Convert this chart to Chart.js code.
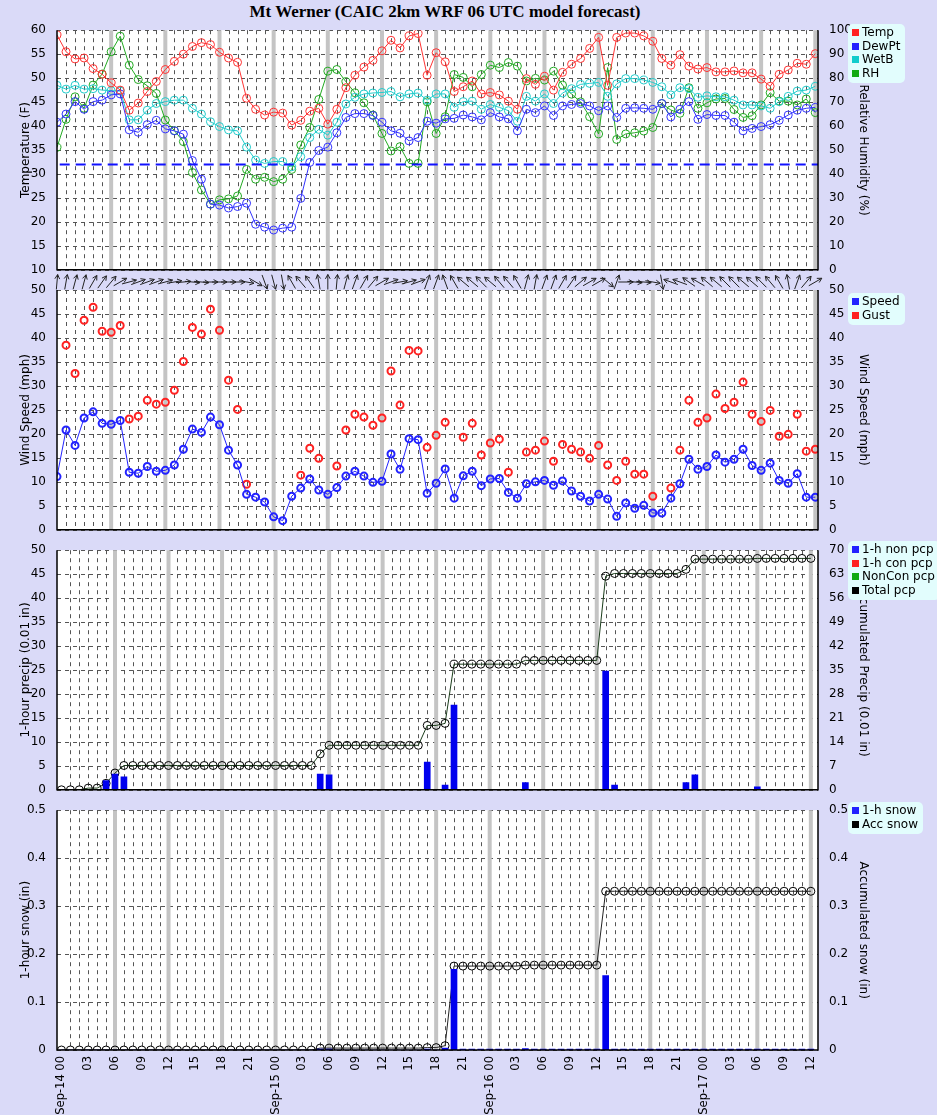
<!DOCTYPE html>
<html>
<head>
<meta charset="utf-8">
<script src="https://cdn.jsdelivr.net/npm/chart.js@4/dist/chart.umd.min.js"></script>
<style>
  body { margin: 0; background: #dadaf8; width: 937px; height: 1115px; position: relative; overflow: hidden; font-family: "DejaVu Sans", sans-serif; }
  h1 { position: absolute; top: 2px; left: 0; width: 890px; margin: 0; text-align: center; font: bold 17px "Liberation Serif", serif; color: #000; }
  .pane { position: absolute; left: 0; width: 937px; }
  .legend { position: absolute; left: 848px; background: #e2fdfd; border-radius: 5px; padding: 2px 5px 3px 4px; font-size: 12px; line-height: 13.5px; color: #000; white-space: nowrap; }
  .legend span { display: inline-block; width: 7px; height: 7px; margin-right: 3px; }
</style>
</head>
<body>
<h1>Mt Werner (CAIC 2km WRF 06 UTC model forecast)</h1>
<div class="pane" style="top:20px;height:260px"><canvas id="c1"></canvas></div>
<div class="pane" style="top:270px;height:270px"><canvas id="c2"></canvas></div>
<div class="pane" style="top:540px;height:260px"><canvas id="c3"></canvas></div>
<div class="pane" style="top:800px;height:318px"><canvas id="c4"></canvas></div>
<div class="legend" style="top:24px"><div><span style="background:#f22"></span>Temp</div><div><span style="background:#22f"></span>DewPt</div><div><span style="background:#1cc"></span>WetB</div><div><span style="background:#1a1"></span>RH</div></div>
<div class="legend" style="top:293px"><div><span style="background:#22f"></span>Speed</div><div><span style="background:#f22"></span>Gust</div></div>
<div class="legend" style="top:541px"><div><span style="background:#22f"></span>1-h non pcp</div><div><span style="background:#f22"></span>1-h con pcp</div><div><span style="background:#1a1"></span>NonCon pcp</div><div><span style="background:#000"></span>Total pcp</div></div>
<div class="legend" style="top:802px"><div><span style="background:#22f"></span>1-h snow</div><div><span style="background:#000"></span>Acc snow</div></div>
<script>
// heures de prévision 0..84 (Sep-14 00 -> Sep-17 12)
const hours = Array.from({ length: 85 }, (_, i) => i);
const dayLabels = ['Sep-14 00', 'Sep-15 00', 'Sep-16 00', 'Sep-17 00'];

const temp = [59,55.5,54,54.2,52,50.8,49,47.5,43.3,44.8,47.2,49.3,51.8,53.5,55,56.6,57.4,57,55.4,54.2,53.3,45.8,43.5,42.3,42.9,42.7,40.2,41.2,43.1,43.7,40.4,43.5,48,50.6,52.3,53.7,55.7,57.9,56.3,58.8,59.3,50.6,55.3,53.4,47.2,48.2,49.4,46.7,47,46.5,45.2,43.5,49.9,48.7,50.4,47.5,51.2,52.9,54.1,56.2,58.5,48.5,58.5,59.4,59.4,58.8,57.7,54.1,52.7,54.9,52.5,51.9,52.2,51.3,51.3,51.5,51.1,51.1,49.8,48.3,50.8,51.7,53.1,52.9,55.1];
const dewpt = [40.8,42.5,45.1,43.5,45.1,45.4,46.5,46.7,39.2,38.7,40.3,41.2,39.4,39,38.3,32.8,28.9,23.7,23.5,22.9,23.2,23.9,19.5,18.9,18.3,18.7,18.9,24.9,32.4,34.9,35.6,38.6,41.8,42.6,42.6,42.2,40.8,39,38.5,36.9,37.6,41,40.6,41.5,41.6,42.3,41.9,41.3,42.8,41.9,41.5,39,43.5,42.8,44.2,42.2,44.2,44.5,44.7,44.2,43.2,44.2,41.8,43.7,43.8,43.7,43.5,44.7,41.9,43.5,45.1,41.4,42.4,42.2,42.2,40.8,39,39.5,39.9,40.3,41.2,42.3,43.3,43.7,43.9];
const wetb = [48.5,47.7,48.5,47.7,47.8,47.5,47.4,47.3,41.3,41.3,43.3,44.7,45.1,45.4,45.4,43.7,42.5,40.9,39.9,39.2,39,35.6,32.9,32.2,32.6,32.6,31.5,33.6,37.6,39.3,38.1,40.8,44.6,46,46.7,46.9,47,47.2,46.1,46.7,46.9,45.4,46.7,46.7,43.9,45.1,45.2,43.5,44.5,43.9,43.2,41,46.2,45.2,46.7,44.7,46.9,47.8,48.7,48.9,49.1,46.2,48.8,49.9,49.9,49.6,49.1,48.2,46.5,48,47.8,46,46.3,46.1,46.1,45.4,44.4,44.4,44.2,43.7,45.1,46.2,47.3,47.5,48.3];
const rh = [51.1,62.8,72.2,67.4,77.1,81.7,91,97.5,85.4,79.4,76.8,73.6,62.5,58.1,53.5,40.6,33.3,27.4,29.2,29.6,30.8,41.9,37.8,38.6,36.8,37.8,41.9,52.1,59.4,71.1,82.9,83.6,78.5,73.9,69.7,64.6,56.9,49.6,51.4,44.4,44.4,70.1,56.9,63.9,81.5,80.3,76.4,81.5,85.4,84.4,86.5,85,78.8,79.9,79.2,82.9,77.1,73.3,70.1,63.9,56.7,84.4,54.4,56.7,57.2,57.9,59.4,69.4,66.7,65.3,76,67.4,69.7,71.3,71.5,66.9,63.6,64.3,68.8,73.9,70.4,70.4,68.8,71.3,65.6];
const freezing = 32;

const speed = [11.1,20.8,17.6,23.3,24.6,22.2,22,22.8,12,11.8,13.2,12.2,12.4,13.5,16.8,21,20.3,23.5,21.9,16.6,13.5,7.4,6.8,5.8,2.7,1.9,7,8.7,10.6,8.3,7.4,8.8,11.2,12.2,11.2,9.9,10.1,15.8,12.6,19,18.8,7.6,9.7,12.7,6.6,11.25,12.2,9.2,10.6,10.7,7.8,6.6,9.6,10,10.3,9.3,10.2,8.1,7,6,7.4,6.4,2.8,5.6,4.5,5.1,3.5,3.5,6.6,9.6,14.7,12.6,13.2,15.6,14.1,14.7,16.8,13.4,12.4,13.9,10.3,9.7,11.7,6.8,6.8];
const gust = [null,38.5,32.6,43.7,46.4,41.4,41.2,42.6,23.1,23.7,27,26.2,26.6,29.1,35.1,42.2,40.8,46,41.6,31.2,25.1,9.5,null,null,null,null,null,11.4,17,14.9,null,13.3,20.8,24.1,23.5,21.8,23.3,33.1,26,37.4,37.3,17.2,19.7,22.4,null,19.3,22.2,15.6,18.1,18.9,12,null,16.2,16.6,18.5,14.3,17.8,16.8,16.2,14.9,17.6,13.5,10.3,14.3,11.6,11.6,7,null,8.7,16.6,27,22.4,23.3,28.3,25.3,26.6,30.8,24.1,22.6,24.9,19.5,19.9,24.1,16.4,16.8];
// direction vers laquelle pointe la flèche (degrés, 0 = nord)
const windDir = [5,10,15,15,30,35,40,60,75,70,70,70,75,80,85,95,95,90,90,90,90,100,120,160,165,170,330,320,325,350,0,5,15,20,30,40,60,70,80,75,70,20,20,340,330,310,310,315,310,320,320,330,15,10,20,20,30,35,50,60,60,130,20,90,95,95,100,170,290,290,305,300,310,310,315,315,310,310,315,320,330,350,20,40,60];

const pcpNon = [0,0,0,0,0,1.9,3.3,2.7,0,0,0,0,0,0,0,0,0,0,0,0,0,0,0,0,0,0,0,0,0,3.3,3.1,0,0,0,0,0,0,0,0,0,0,5.8,0,1,17.7,0,0,0,0,0,0,0,1.5,0,0,0,0,0,0,0,0,24.8,1,0,0,0,0,0,0,0,1.5,3.1,0,0,0,0,0,0,0.6,0,0,0,0,0,0];
const pcpTotal = [0,0,0,0.5,0.5,1.9,4.9,7.1,7.1,7.1,7.1,7.1,7.1,7.1,7.1,7.1,7.1,7.1,7.1,7.1,7.1,7.1,7.1,7.1,7.1,7.1,7.1,7.1,7.1,10.5,13,13,13,13,13,13,13,13,13,13,13,18.8,18.8,19.4,36.7,36.7,36.7,36.7,36.7,36.7,36.7,36.7,37.8,37.8,37.8,37.8,37.8,37.8,37.8,37.8,37.8,62.4,63.2,63.2,63.2,63.2,63.2,63.2,63.2,63.2,64.4,67.4,67.4,67.4,67.4,67.4,67.4,67.4,67.6,67.6,67.6,67.6,67.6,67.6,67.6];

const snow1h = [0,0,0,0,0,0,0,0,0,0,0,0,0,0,0,0,0,0,0,0,0,0,0,0,0,0,0,0,0,0.002,0.002,0,0,0,0,0,0,0,0,0,0,0.002,0,0.004,0.168,0.002,0.002,0.002,0.002,0.002,0.002,0.002,0.003,0.002,0.002,0.002,0.002,0.002,0.002,0.002,0.002,0.155,0.002,0.002,0.002,0.002,0.002,0.002,0.002,0.002,0.002,0.002,0.002,0.002,0.002,0.002,0.002,0.002,0.002,0.002,0.002,0.002,0.002,0.002,0.002];
const snowAcc = [0,0,0,0,0,0,0,0,0,0,0,0,0,0,0,0,0,0,0,0,0,0,0,0,0,0,0,0,0,0.004,0.004,0.004,0.004,0.004,0.004,0.004,0.004,0.004,0.004,0.004,0.004,0.005,0.005,0.009,0.175,0.175,0.175,0.175,0.175,0.175,0.175,0.175,0.177,0.177,0.177,0.177,0.177,0.177,0.177,0.177,0.177,0.331,0.331,0.331,0.331,0.331,0.331,0.331,0.331,0.331,0.331,0.331,0.331,0.331,0.331,0.331,0.331,0.331,0.331,0.331,0.331,0.331,0.331,0.331,0.331];

const FONT = 'DejaVu Sans';
const xy = (arr) => arr.map((v, i) => ({ x: hours[i], y: v }));

// grille: tirets chaque heure, barres grises toutes les 6 h, cadre noir
const gridPlugin = {
  id: 'grid',
  beforeDatasetsDraw(chart) {
    const { ctx, chartArea: a, scales } = chart;
    const x = scales.x, y = scales.y;
    ctx.save();
    ctx.fillStyle = '#fff';
    ctx.fillRect(a.left, a.top, a.right - a.left, a.bottom - a.top);
    ctx.strokeStyle = '#555';
    ctx.lineWidth = 1;
    ctx.setLineDash([4, 4]);
    y.ticks.forEach(t => {
      const py = Math.round(y.getPixelForValue(t.value)) + 0.5;
      ctx.beginPath(); ctx.moveTo(a.left, py); ctx.lineTo(a.right, py); ctx.stroke();
    });
    hours.forEach(h => {
      if (h % 6 === 0) return;
      const px = Math.round(x.getPixelForValue(h)) + 0.5;
      ctx.beginPath(); ctx.moveTo(px, a.top); ctx.lineTo(px, a.bottom); ctx.stroke();
    });
    ctx.setLineDash([]);
    ctx.strokeStyle = '#c4c4c4';
    ctx.lineWidth = 4;
    hours.forEach(h => {
      if (h % 6 !== 0 || h === 0) return;
      const px = x.getPixelForValue(h);
      ctx.beginPath(); ctx.moveTo(px, a.top); ctx.lineTo(px, a.bottom); ctx.stroke();
    });
    ctx.restore();
  },
  afterDraw(chart) {
    const { ctx, chartArea: a } = chart;
    ctx.save();
    ctx.strokeStyle = '#000';
    ctx.lineWidth = 1.5;
    ctx.beginPath();
    ctx.moveTo(a.left, a.top); ctx.lineTo(a.left, a.bottom); ctx.lineTo(a.right, a.bottom); ctx.lineTo(a.right, a.top);
    ctx.stroke();
    ctx.restore();
  }
};

const arrowPlugin = {
  id: 'arrows',
  afterDraw(chart) {
    const { ctx, chartArea: a, scales } = chart;
    ctx.save();
    ctx.strokeStyle = '#222';
    ctx.lineWidth = 1;
    windDir.forEach((d, i) => {
      const cx = scales.x.getPixelForValue(hours[i]);
      const cy = a.top - 8;
      const r = d * Math.PI / 180, len = 15;
      const dx = Math.sin(r), dy = -Math.cos(r);
      const x0 = cx - dx * len / 2, y0 = cy - dy * len / 2;
      const x1 = cx + dx * len / 2, y1 = cy + dy * len / 2;
      ctx.beginPath(); ctx.moveTo(x0, y0); ctx.lineTo(x1, y1);
      const ang = Math.atan2(y1 - y0, x1 - x0);
      [0.5, -0.5].forEach(o => {
        ctx.moveTo(x1, y1);
        ctx.lineTo(x1 - 5 * Math.cos(ang + o), y1 - 5 * Math.sin(ang + o));
      });
      ctx.stroke();
    });
    ctx.restore();
  }
};

function xScale(showTicks) {
  return {
    type: 'linear', min: 0, max: 84.3, display: true,
    grid: { display: false, drawTicks: showTicks, tickLength: 4, color: '#000' },
    border: { display: false },
    afterFit: s => { s.height = showTicks ? 68 : 0; },
    afterBuildTicks: s => { s.ticks = hours.map(h => ({ value: h })); },
    ticks: {
      display: showTicks, autoSkip: false, maxRotation: 90, minRotation: 90, padding: 2,
      color: '#000', font: { family: FONT, size: 11.5 },
      callback: v => (v % 24 === 0 ? dayLabels[v / 24] : (v % 3 === 0 ? String(v % 24).padStart(2, '0') : ''))
    }
  };
}

function yScale(pos, min, max, step, title, fmt) {
  return {
    type: 'linear', position: pos, min, max,
    grid: { display: false, drawTicks: true },
    border: { display: false },
    afterFit: s => { s.width = pos === 'left' ? 40 : 54; },
    ticks: { stepSize: step, color: '#000', font: { family: FONT, size: 12 }, padding: 3,
      callback: fmt || (v => v) },
    title: { display: true, text: title, color: '#000', font: { family: FONT, size: 12 }, padding: 2 }
  };
}

function lineDs(data, color, axis, opts) {
  return Object.assign({
    type: 'line', data: xy(data), yAxisID: axis, borderColor: color, backgroundColor: color,
    borderWidth: 1, pointRadius: 4, pointBorderWidth: 1, pointBackgroundColor: 'rgba(0,0,0,0)',
    pointBorderColor: color, tension: 0, spanGaps: false
  }, opts || {});
}

function makeChart(id, datasets, scales, top, bottom, extra) {
  return new Chart(document.getElementById(id), {
    data: { datasets },
    options: {
      responsive: true, maintainAspectRatio: false, animation: false,
      layout: { padding: { top, bottom, left: 17, right: 65 } },
      plugins: { legend: { display: false }, tooltip: { enabled: false } },
      scales
    },
    plugins: [gridPlugin].concat(extra || [])
  });
}

// Panneau 1: températures + HR
makeChart('c1', [
  lineDs([], '#11f', 'y', { data: [{ x: 0.3, y: freezing }, { x: 84.3, y: freezing }], borderWidth: 2, borderDash: [10, 6], pointRadius: 0 }),
  lineDs(temp, '#f33', 'y'),
  lineDs(dewpt, '#33f', 'y'),
  lineDs(wetb, '#2cc', 'y'),
  lineDs(rh, '#2a2', 'y2')
], {
  x: xScale(false),
  y: yScale('left', 10, 60, 5, 'Temperature (F)'),
  y2: yScale('right', 0, 100, 10, 'Relative Humidity (%)')
}, 10, 10);

// Panneau 2: vent
makeChart('c2', [
  lineDs(speed, '#22f', 'y', { pointRadius: 3.5, pointBorderWidth: 2 }),
  lineDs(gust, '#f22', 'y', { showLine: false, pointRadius: 3.5, pointBorderWidth: 2 })
], {
  x: xScale(false),
  y: yScale('left', 0, 50, 5, 'Wind Speed (mph)'),
  y2: yScale('right', 0, 50, 5, 'Wind Speed (mph)')
}, 20, 10, [arrowPlugin]);

// Panneau 3: précipitations
makeChart('c3', [
  { type: 'bar', data: xy(pcpNon), yAxisID: 'y', backgroundColor: '#0000ee', barThickness: 6, borderWidth: 0 },
  lineDs(pcpTotal, '#1b3d1b', 'y2', { pointBorderColor: '#000', pointRadius: 4 })
], {
  x: xScale(false),
  y: yScale('left', 0, 50, 5, '1-hour precip (0.01 in)'),
  y2: yScale('right', 0, 70, 7, 'Accumulated Precip (0.01 in)')
}, 10, 10);

// Panneau 4: neige
const fmtSnow = v => (v === 0 ? '0' : v.toFixed(1));
makeChart('c4', [
  { type: 'bar', data: xy(snow1h), yAxisID: 'y', backgroundColor: '#0000ee', barThickness: 6, borderWidth: 0 },
  lineDs(snowAcc, '#222', 'y2', { pointBorderColor: '#000', pointRadius: 4 })
], {
  x: xScale(true),
  y: yScale('left', 0, 0.5, 0.1, '1-hour snow (in)', fmtSnow),
  y2: yScale('right', 0, 0.5, 0.1, 'Accumulated snow (in)', fmtSnow)
}, 10, 0);
</script>
</body>
</html>
